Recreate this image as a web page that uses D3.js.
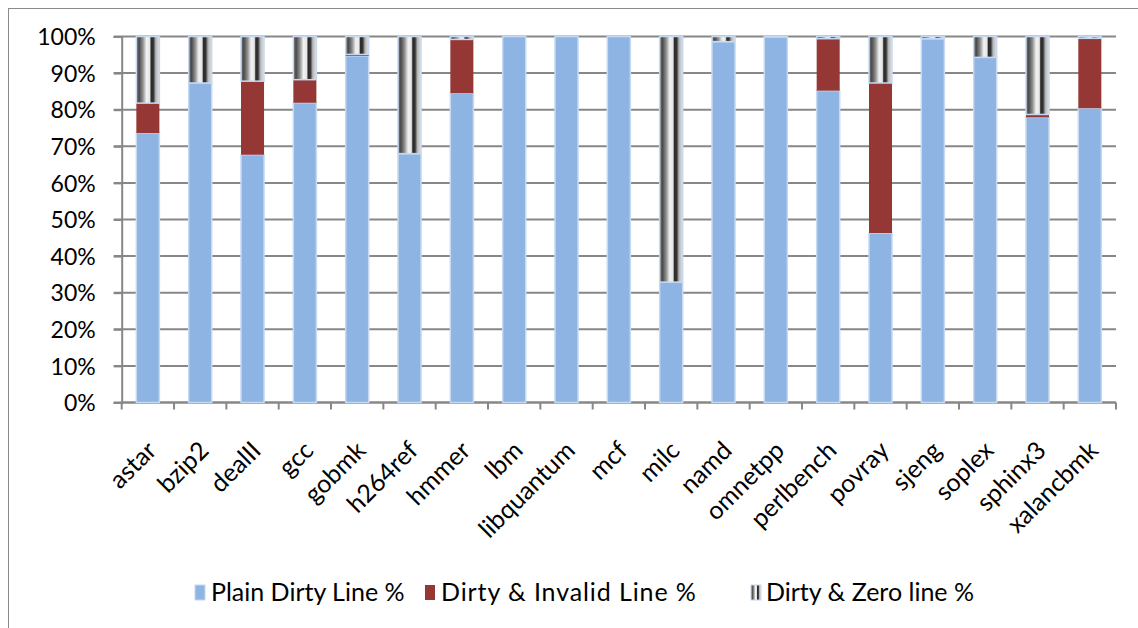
<!DOCTYPE html>
<html>
<head>
<meta charset="utf-8">
<script src="https://cdn.jsdelivr.net/npm/d3@7"></script>
<style>
  html, body { margin: 0; padding: 0; background: #fff; }
  svg { display: block; }
  text { font-family: Lato, "Open Sans", sans-serif; fill: #000; }
</style>
</head>
<body>
<svg id="chart" width="1138" height="628"></svg>
<script>
// Benchmarks and the share of each kind of dirty line (percent of all dirty lines)
const categories = ["astar", "bzip2", "dealII", "gcc", "gobmk", "h264ref", "hmmer", "lbm",
  "libquantum", "mcf", "milc", "namd", "omnetpp", "perlbench", "povray", "sjeng",
  "soplex", "sphinx3", "xalancbmk"];
const plainDirty   = [73.6, 87.3, 67.7, 81.9, 94.7, 68.0, 84.5, 100, 100, 100, 32.9, 98.6, 99.9, 85.2, 46.3, 99.4, 94.3, 77.9, 80.4];
const dirtyInvalid = [8.2, 0, 20.1, 6.3, 0.4, 0, 14.7, 0, 0, 0, 0, 0, 0, 14.2, 41.0, 0, 0, 0.8, 19.1];
const dirtyZero    = [18.2, 12.7, 12.2, 11.8, 4.9, 32.0, 0.8, 0, 0, 0, 67.1, 1.4, 0.1, 0.6, 12.7, 0.6, 5.7, 21.3, 0.5];
const seriesNames  = ["Plain Dirty Line %", "Dirty & Invalid Line %", "Dirty & Zero line %"];
const yTicks = [0, 10, 20, 30, 40, 50, 60, 70, 80, 90, 100];

const svg = d3.select("#chart");
const plotLeft = 121.7, plotRight = 1116, plotTop = 36.5, plotBottom = 402.5;

// outer chart frame
svg.append("rect").attr("x", 8.5).attr("y", 8.5).attr("width", 1300).attr("height", 800)
  .attr("fill", "none").attr("stroke", "#8a8a8a").attr("stroke-width", 1);

const defs = svg.append("defs");
const grad = defs.append("linearGradient").attr("id", "zeroFill")
  .attr("x1", 0).attr("x2", 1).attr("y1", 0).attr("y2", 0);
[[0, "#7a7a7a"], [0.12, "#4a4a4a"], [0.28, "#8e8e8e"], [0.44, "#f2f2f2"], [0.58, "#e6e6e6"],
 [0.64, "#2c2c2c"], [0.74, "#333333"], [0.84, "#b5b5b5"], [1, "#e4e4e4"]]
  .forEach(([o, c]) => grad.append("stop").attr("offset", o).attr("stop-color", c));

const x = d3.scaleBand().domain(categories).range([plotLeft, plotRight]).padding(0);
const y = d3.scaleLinear().domain([0, 100]).range([plotBottom, plotTop]);
const step = x.step();
const barW = step * 0.44;

// horizontal gridlines
svg.append("g").selectAll("line").data(yTicks).join("line")
  .attr("x1", plotLeft - 8).attr("x2", plotRight)
  .attr("y1", d => y(d)).attr("y2", d => y(d))
  .attr("stroke", "#878787").attr("stroke-width", 2);

// y axis
const yAxis = svg.append("g").attr("transform", `translate(${plotLeft},0)`)
  .call(d3.axisLeft(y).tickValues(yTicks).tickFormat(d => d + "%").tickSize(8).tickPadding(18));
yAxis.select(".domain").attr("stroke", "#878787").attr("stroke-width", 2);
yAxis.selectAll(".tick line").attr("stroke", "#878787").attr("stroke-width", 2);
yAxis.selectAll(".tick text").style("font-size", "23px").attr("dy", "0.36em");

// x axis tick marks at category boundaries
const bounds = categories.map(c => x(c)).concat([plotRight]);
svg.append("g").selectAll("line").data(bounds).join("line")
  .attr("x1", d => d).attr("x2", d => d).attr("y1", plotBottom).attr("y2", plotBottom + 7)
  .attr("stroke", "#878787").attr("stroke-width", 2);
svg.append("line").attr("x1", plotLeft).attr("x2", plotRight).attr("y1", plotBottom).attr("y2", plotBottom)
  .attr("stroke", "#878787").attr("stroke-width", 2);

// stacked bars
const rows = categories.map((c, i) => ({ c, plain: plainDirty[i], invalid: dirtyInvalid[i], zero: dirtyZero[i] }));
const stack = d3.stack().keys(["plain", "invalid", "zero"])(rows);
const fills = { plain: "#8eb4e3", invalid: "#953735", zero: "url(#zeroFill)" };
const strokes = { plain: "#c6d9f1", invalid: "none", zero: "#c6d9f1" };

svg.append("g").selectAll("g").data(stack).join("g")
  .attr("fill", s => fills[s.key])
  .attr("stroke", s => strokes[s.key])
  .attr("stroke-width", 1.5)
  .selectAll("rect").data(s => s.filter(d => d[1] - d[0] > 0)).join("rect")
  .attr("x", d => x(d.data.c) + (step - barW) / 2)
  .attr("width", barW)
  .attr("y", d => y(d[1]))
  .attr("height", d => y(d[0]) - y(d[1]));

// rotated category labels
svg.append("g").selectAll("text").data(categories).join("text")
  .attr("transform", d => `translate(${x(d) + step / 2 + 10},${452}) rotate(-45)`)
  .attr("text-anchor", "end")
  .style("font-size", "25px")
  .text(d => d);

// legend
const legendItems = [
  { name: seriesNames[0], fill: fills.plain, stroke: "#c6d9f1", kx: 195, tx: 211, ls: 0 },
  { name: seriesNames[1], fill: fills.invalid, stroke: "none", kx: 425, tx: 441, ls: 0.9 },
  { name: seriesNames[2], fill: fills.zero, stroke: "#c6d9f1", kx: 751, tx: 766, ls: 0 }
];
const lg = svg.append("g").selectAll("g").data(legendItems).join("g");
lg.append("rect").attr("x", d => d.kx).attr("y", 585).attr("width", 10).attr("height", 15)
  .attr("fill", d => d.fill).attr("stroke", d => d.stroke).attr("stroke-width", 1);
lg.append("text").attr("x", d => d.tx).attr("y", 601).style("font-size", "25px")
  .style("letter-spacing", d => d.ls + "px").text(d => d.name);
</script>
</body>
</html>
